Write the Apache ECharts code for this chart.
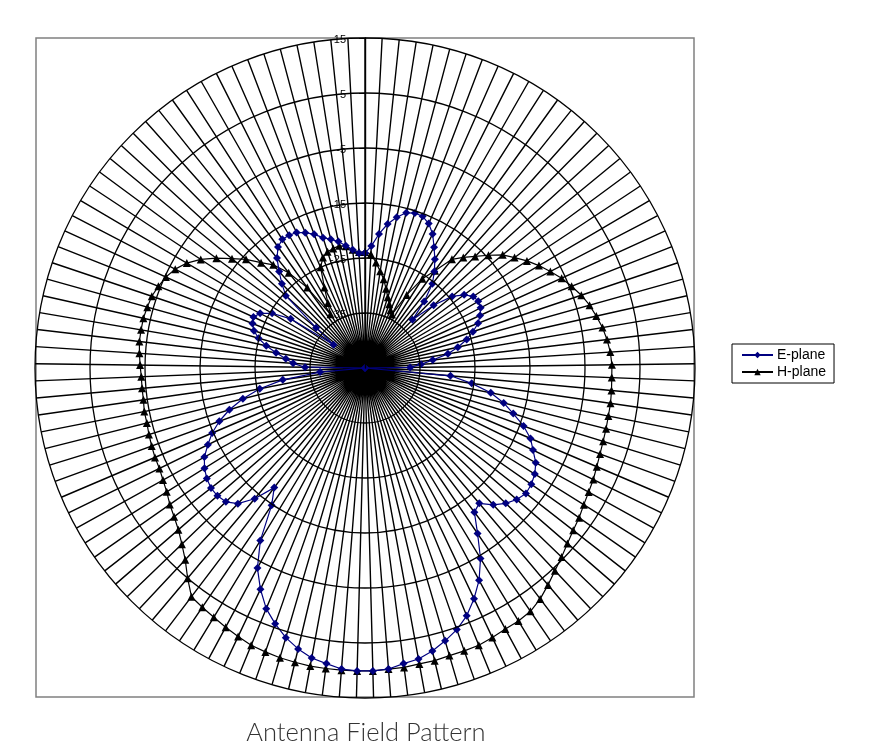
<!DOCTYPE html>
<html>
<head>
<meta charset="utf-8">
<script src="https://cdn.jsdelivr.net/npm/echarts@6/dist/echarts.min.js"></script>
<style>
  html, body { margin: 0; padding: 0; background: #fff; }
  #chart { width: 878px; height: 751px; }
</style>
</head>
<body>
<div id="chart"></div>
<script>
// field strength in dB, 0..360 deg in 3 deg steps (121 samples, one per spoke)
const ePlane = [
  -24.1, -22.8, -20.5, -18.5, -17.0, -15.8, -15.4, -15.5, -16.3, -17.7,
  -19.7, -21.5, -23.4, -25.4, -28.8, -32.7, -28.1, -24.5, -22.6, -21.4,
  -21.1, -21.3, -22.0, -22.9, -24.3, -25.8, -27.7, -29.7, -32.6, -34.8,
  -36.8, -45.0, -29.4, -25.4, -21.7, -19.0, -16.8, -14.3, -12.3, -11.0,
  -9.5, -8.6, -8.1, -7.9, -8.5, -9.5, -10.9, -12.8, -12.1, -8.6,
  -4.5, -1.2, 1.4, 3.7, 5.4, 6.7, 7.9, 8.8, 9.2, 9.9,
  10.1, 10.1, 9.9, 9.2, 8.6, 7.5, 6.1, 4.3, 2.3, -0.5,
  -3.7, -8.3, -14.8, -17.7, -13.9, -11.2, -9.9, -9.5, -9.5, -9.9,
  -10.6, -11.6, -13.2, -14.8, -16.8, -19.2, -22.1, -25.5, -29.9, -36.8,
  -45.0, -34.1, -31.9, -30.5, -28.6, -26.6, -24.9, -23.7, -23.0, -22.7,
  -23.5, -25.4, -28.8, -37.9, -33.5, -25.5, -23.5, -21.5, -19.4, -17.9,
  -17.2, -17.2, -17.4, -18.1, -19.0, -20.1, -20.8, -21.5, -22.5, -23.4,
  -24.1
]
const hPlane = [
  -23.9, -24.3, -25.7, -27.2, -28.5, -30.1, -31.5, -32.6, -33.5, -34.1,
  -29.7, -25.7, -23.2, -19.7, -18.1, -16.5, -14.6, -12.6, -11.2, -9.7,
  -8.3, -7.0, -5.7, -4.6, -3.5, -2.6, -1.9, -1.2, -0.7, -0.3,
  -0.1, -0.1, 0.0, 0.1, 0.1, 0.2, 0.3, 0.5, 0.8, 1.2,
  1.5, 1.9, 2.5, 3.0, 3.7, 4.6, 5.5, 6.6, 7.7, 8.5,
  8.8, 8.9, 9.2, 9.5, 9.5, 9.5, 9.7, 9.7, 9.9, 9.9,
  10.1, 10.1, 10.1, 10.1, 10.1, 10.0, 9.9, 9.7, 9.5, 9.0,
  8.5, 8.0, 7.6, 7.2, 5.0, 2.8, 1.2, -0.1, -1.0, -1.7,
  -2.5, -3.0, -3.4, -3.5, -3.7, -3.9, -4.1, -4.1, -4.3, -4.3,
  -4.3, -4.1, -3.9, -3.7, -3.7, -3.7, -3.9, -4.1, -4.6, -5.2,
  -6.1, -7.4, -9.2, -11.4, -13.7, -15.7, -18.1, -19.9, -22.8, -27.0,
  -33.4, -31.4, -28.6, -25.0, -23.5, -22.8, -22.5, -22.3, -22.6, -23.4,
  -23.9
]
const seriesNames = ['E-plane', 'H-plane']
const radiusMin = -45
const radiusMax = 15
const radiusStep = 10

// one spoke per sample, like the excel radar; last point joins back to the first
const spokes = ePlane.length
function toPolar(values) {
  let pts = values.map((v, i) => [v, i])
  pts.push([values[0], spokes])
  return pts
}

const chart = echarts.init(document.getElementById('chart'))
chart.setOption({
  animation: false,
  polar: {
    center: [365, 368],
    radius: 330
  },
  angleAxis: {
    type: 'value',
    min: 0,
    max: spokes,
    interval: 1,
    startAngle: 90,
    clockwise: true,
    axisLine: { show: false },
    axisTick: { show: false },
    axisLabel: { show: false },
    splitLine: {
      show: true,
      lineStyle: { color: '#000', width: 1.4 }
    }
  },
  radiusAxis: {
    type: 'value',
    min: radiusMin,
    max: radiusMax,
    interval: radiusStep,
    z: 5,
    axisLine: { show: true, lineStyle: { color: '#000', width: 1.4 } },
    axisTick: { show: true, length: 6, lineStyle: { color: '#000' } },
    axisLabel: {
      showMinLabel: false,
      color: '#000',
      fontFamily: 'Arial, Liberation Sans',
      fontSize: 11,
      margin: 19,
      verticalAlign: 'top',
      padding: [-4, 0, 0, 0]
    },
    splitLine: {
      show: true,
      lineStyle: { color: '#000', width: 1.3 }
    }
  },
  legend: {
    orient: 'vertical',
    left: 732,
    top: 344,
    itemWidth: 31,
    itemHeight: 8,
    itemGap: 3,
    padding: [4, 8, 4, 9],
    borderColor: '#000',
    borderWidth: 1,
    borderRadius: 0,
    textStyle: { fontFamily: 'Arial, Liberation Sans', fontSize: 14, color: '#000', padding: [0, 0, 0, -1] },
    data: seriesNames
  },
  graphic: [
    {
      type: 'rect',
      silent: true,
      shape: { x: 36, y: 38, width: 658, height: 659 },
      style: { fill: 'none', stroke: '#808080', lineWidth: 1.5 }
    },
    {
      type: 'text',
      style: {
        x: 366,
        y: 733,
        text: 'Antenna Field Pattern',
        textAlign: 'center',
        textVerticalAlign: 'middle',
        font: '300 25.5px Lato, "Open Sans", sans-serif',
        fill: '#333'
      }
    }
  ],
  series: [
    {
      name: seriesNames[0],
      type: 'line',
      coordinateSystem: 'polar',
      data: toPolar(ePlane),
      symbol: 'diamond',
      symbolSize: 8,
      clip: false,
      z: 4,
      lineStyle: { color: '#000080', width: 1.2 },
      itemStyle: { color: '#000080' }
    },
    {
      name: seriesNames[1],
      type: 'line',
      coordinateSystem: 'polar',
      data: toPolar(hPlane),
      symbol: 'triangle',
      symbolSize: 8,
      clip: false,
      z: 3,
      lineStyle: { color: '#000', width: 1.2 },
      itemStyle: { color: '#000' }
    }
  ]
})
</script>
</body>
</html>
